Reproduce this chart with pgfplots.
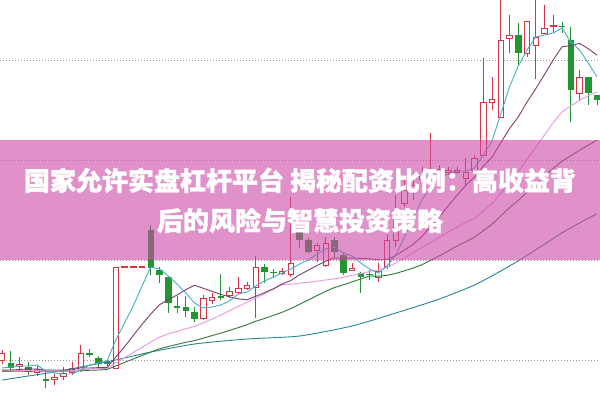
\documentclass[border=0pt]{standalone}
\usepackage{pgfplots}
\pgfplotsset{compat=1.18}
\usepackage{pgfplotstable}
\usepackage{fontspec}
\newfontfamily\cjk{Noto Sans CJK SC}[BoldFeatures={FakeBold=1.2}]
\definecolor{cred}{RGB}{212,52,68}
\definecolor{cgreen}{RGB}{34,150,50}
\definecolor{maA}{RGB}{70,175,195}
\definecolor{maB}{RGB}{125,60,110}
\definecolor{maC}{RGB}{235,150,230}
\definecolor{maD}{RGB}{50,120,50}
\definecolor{maE}{RGB}{40,135,150}
\definecolor{banner}{RGB}{205,72,165}
\definecolor{gridc}{RGB}{150,150,150}

% candles: index, body top, body bottom, high, low (chart pixel rows, downward)
\pgfplotstableread{
i bt bb hi lo
0 353 360 350 364
2 364 366 357 369
4 369 372 365 376
6 377 379 374 385
7 373 376 367 380
8 368 372 362 375
9 353 370 345 372
13 267 368 267 368
14 266.5 267.5 267 267
15 266.5 267.5 267 267
16 266.5 267.5 267 267
23 298 318 295 320
24 297 300 293 304
26 291 295 287 298
27 288 292 277 294
28 285 288 282 290
29 267 287 256 318
32 271 273 268 275
33 263 274 197 277
36 245 250 243 262
37 243 265 237 267
40 268 270 263 271
43 271 277 263 282
44 240 266 234 269
45 210 240 195 247
46 190 203 177 207
47 185 189 173 200
48 176 179 167 187
49 170 172 133 180
50 169.5 171 165 177
51 170 172 167 175
52 170 172 167 174
53 172 178 158 185
54 158 170 155 172
55 102 155 58 155
56 99 102 77 110
57 40 117 0 117
58 35 38 15 53
60 21 53 21 57
61 37 45 0 79
62 28 33 5 33
63 25.5 26.5 15 33
66 77 93 70 100
}\redtab

\pgfplotstableread{
i bt bb hi lo
1 363 368 351 372
3 367 372 362 375
5 379 381 370 388
10 353 355 349 357
11 358 364 356 368
12 361 364 360 366
17 230 268 225 275
18 270 275 267 283
19 277 303 277 313
20 306 308 296 313
21 307 311 296 317
22 312 319 307 322
25 296 298 274 300
30 267 272 264 283
31 271.5 273 269 278
34 232 240 228 248
35 240 252 238 253
38 240 252 237 257
39 255 273 253 275
41 273 277 272 293
42 273.5 275 270 280
59 35 53 23 65
64 25.5 27 22 33
65 40 90 27 122
67 77 93 77 105
68 95 100 95 105
}\greentab

% moving averages
\pgfplotstableread{
i a b c d
0 368 370.1 371.0 371.4
1 367 370.0 370.9 371.3
2 366 369.5 370.5 371.1
3 366 368.9 370.5 371.1
4 365 369.0 370.3 371.0
5 371 370.0 370.8 371.2
6 373 370.0 371.0 371.3
7 374 370.0 371.1 371.3
8 374 369.7 370.9 371.2
9 370 367.8 369.9 370.6
10 365 368.0 369.1 370.3
11 363 367.6 368.7 370.0
12 361 367.6 368.3 369.5
13 340 357.1 363.0 366.0
14 323 346.9 357.8 362.5
15 306 335.5 352.5 359.0
16 286 324.5 347.3 355.5
17 267 314.0 342.0 352.0
18 269 304.7 337.2 348.8
19 276 299.7 333.8 346.5
20 284 295.0 331.5 344.4
21 293 289.7 328.7 342.3
22 303 285.2 326.4 340.6
23 308 288.3 322.7 338.1
24 307 291.3 319.1 335.6
25 305 294.4 315.0 333.1
26 301 296.8 310.7 330.4
27 294 298.8 306.4 327.6
28 292 299.8 302.3 324.7
29 286 296.2 298.0 321.2
30 281 292.6 293.8 318.5
31 277 288.8 289.3 315.4
32 273 284.0 284.6 312.3
33 269 280.5 284.4 308.6
34 264 274.8 283.1 304.3
35 260 270.2 282.3 300.0
36 254 265.6 281.2 295.6
37 249 261.1 280.0 291.3
38 247 257.9 278.9 287.5
39 253 258.5 277.4 284.8
40 256 258.0 275.3 281.9
41 263 258.4 273.6 279.0
42 269 258.8 271.4 276.0
43 273 259.7 270.1 276.2
44 266 259.7 267.3 275.3
45 255 255.5 262.9 273.4
46 237 250.0 257.8 270.8
47 219 244.2 252.7 268.0
48 200 236.5 247.2 264.7
49 186 226.2 242.4 260.3
50 178 216.5 237.3 255.7
51 174 205.8 232.1 251.0
52 171 195.3 227.1 246.0
53 171 185.3 222.5 241.8
54 168 177.1 218.4 237.2
55 155 166.3 210.9 230.7
56 141 157.2 203.6 224.3
57 114 142.7 193.5 216.0
58 87 128.6 182.6 207.7
59 66 116.9 171.6 200.5
60 50 102.0 159.3 192.2
61 37 88.7 147.3 184.3
62 35 74.5 134.9 176.2
63 33 59.9 122.6 168.3
64 28 46.8 112.0 161.2
65 42 45.6 106.0 155.8
66 50 43.4 100.3 150.2
67 63 48.7 95.7 145.2
68 77 55.2 91.9 140.1
}\matab

\pgfplotstableread{
i e
0 380
3 376
6 372
9 367
13 360
17 352
22 344
28 339
34 336
40 326
45 313
50 299
54 285
57 271
59 260.9
60 255.4
61 249.8
62 244.2
63 238.5
64 232.8
65 227.9
66 222.9
67 218.3
68 213.8
}\malong

\pgfplotsset{
  wick/.style={draw=none, mark=none, error bars/.cd, y dir=both, y explicit, error mark=none,
    error bar style={line width=1bp, draw=#1, solid}},
  body/.style 2 args={draw=none, mark=none, error bars/.cd, y dir=both, y explicit, error mark=none,
    error bar style={line width=#2, draw=#1, solid}},
}

\begin{document}
\begin{tikzpicture}
\begin{axis}[x=1bp, y=1bp, xmin=0, xmax=600, ymin=0, ymax=400, y dir=reverse,
  hide axis, scale only axis, clip=true]
% background
\addplot[fill=white, draw=none] coordinates {(0,400) (600,400)} \closedcycle;
% dotted grid
\addplot[gridc, line width=1bp, dash pattern=on 1bp off 2bp] coordinates {(0,60) (600,60)};
\addplot[gridc, line width=1bp, dash pattern=on 1bp off 2bp] coordinates {(0,160) (600,160)};
\addplot[gridc, line width=1bp, dash pattern=on 1bp off 2bp] coordinates {(0,260) (600,260)};
\addplot[gridc, line width=1bp, dash pattern=on 1bp off 2bp] coordinates {(0,360) (600,360)};
% wicks
\addplot[wick=cred] table[x expr=2+8.75*\thisrow{i}, y expr=(\thisrow{hi}+\thisrow{lo})/2,
  y error expr=(\thisrow{lo}-\thisrow{hi})/2] \redtab;
\addplot[wick=cgreen] table[x expr=2+8.75*\thisrow{i}, y expr=(\thisrow{hi}+\thisrow{lo})/2,
  y error expr=(\thisrow{lo}-\thisrow{hi})/2] \greentab;
% bodies
\addplot[body={cred}{6.5bp}] table[x expr=2+8.75*\thisrow{i}, y expr=(\thisrow{bt}+\thisrow{bb})/2,
  y error expr={max((\thisrow{bb}-\thisrow{bt})/2+0.5,0.6)}] \redtab;
\addplot[body={white}{4.5bp}] table[x expr=2+8.75*\thisrow{i}, y expr=(\thisrow{bt}+\thisrow{bb})/2,
  y error expr={max((\thisrow{bb}-\thisrow{bt})/2-0.5,0)}] \redtab;
\addplot[body={cgreen}{6.5bp}] table[x expr=2+8.75*\thisrow{i}, y expr=(\thisrow{bt}+\thisrow{bb})/2,
  y error expr={max((\thisrow{bb}-\thisrow{bt})/2,0.6)}] \greentab;
% moving averages
\addplot[maE, line width=0.9bp, smooth, tension=0.4] table[x expr=2+8.75*\thisrow{i}, y=e] \malong;
\addplot[maD, line width=0.9bp] table[x expr=2+8.75*\thisrow{i}, y=d] \matab;
\addplot[maC, line width=0.9bp] table[x expr=2+8.75*\thisrow{i}, y=c] \matab;
\addplot[maB, line width=0.9bp] table[x expr=2+8.75*\thisrow{i}, y=b] \matab;
\addplot[maA, line width=0.9bp] table[x expr=2+8.75*\thisrow{i}, y=a] \matab;
% banner
\addplot[fill=banner, fill opacity=0.6, draw=none] coordinates {(0,140) (600,140) (600,260) (0,260) (0,140)};
\node[anchor=base, inner sep=0pt, text=white, font=\cjk\bfseries\fontsize{26bp}{30bp}\selectfont]
  at (axis cs:300,190.5) {国家允许实盘杠杆平台 揭秘配资比例：高收益背};
\node[anchor=base, inner sep=0pt, text=white, font=\cjk\bfseries\fontsize{26bp}{30bp}\selectfont]
  at (axis cs:300,230.5) {后的风险与智慧投资策略};
\end{axis}
\end{tikzpicture}
\end{document}
